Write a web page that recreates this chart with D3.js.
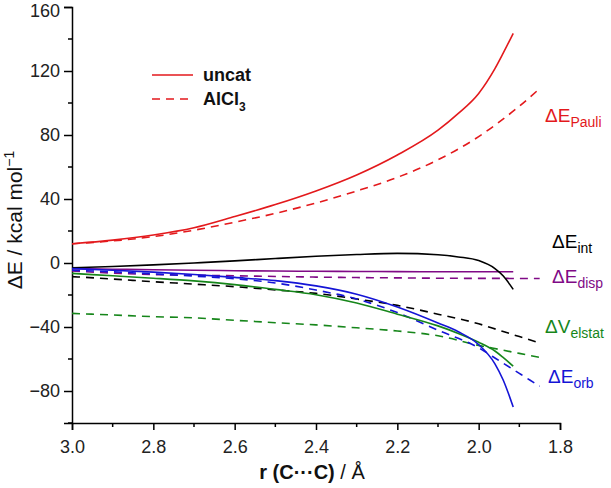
<!DOCTYPE html>
<html><head><meta charset="utf-8">
<script src="https://cdn.jsdelivr.net/npm/d3@7"></script>
<style>html,body{margin:0;padding:0;background:#fff}svg{display:block;font-family:"Liberation Sans",Arial,sans-serif}</style>
</head><body><svg id="c" width="611" height="488"></svg>
<script>
// r (C···C) / Å sampling for uncatalysed (solid) and AlCl3 (dashed) curves
const rUncat = [3.0, 2.9, 2.8, 2.7, 2.6, 2.5, 2.4, 2.3, 2.2, 2.1, 2.05, 2.0, 1.96, 1.94, 1.915];
const rCat   = [3.0, 2.9, 2.8, 2.7, 2.6, 2.5, 2.4, 2.3, 2.2, 2.1, 2.0, 1.95, 1.9, 1.85];

// Uncatalysed (solid)
const pauliUncat  = [12, 14.3, 17.5, 22, 29, 36.5, 45, 55, 67.5, 83, 93.5, 106, 121.5, 131, 143.5];
const intUncat    = [-3, -2.2, -1.2, 0, 1.3, 2.8, 4.2, 5.3, 6, 5.2, 3.8, 1.5, -3.5, -8, -16.5];
const dispUncat   = [-3.5, -3.9, -4.2, -4.5, -4.8, -5.0, -5.2, -5.3, -5.4, -5.5, -5.5, -5.5, -5.5, -5.5, -5.5];
const elstatUncat = [-6.5, -8, -9.5, -11.2, -13.5, -16.5, -19.8, -25, -32, -39.3, -44, -49.5, -55, -59, -64.5];
const orbUncat    = [-3.5, -4.5, -5.7, -7.2, -9, -11, -14.3, -19.5, -27.5, -37.5, -43, -51, -63, -73, -90];

// AlCl3 (dashed)
const pauliCat  = [12, 13.8, 16.5, 20.5, 25.5, 31, 37.5, 45, 53.5, 64.5, 79, 88, 98, 109];
const intCat    = [-8.5, -10, -11.7, -13.2, -14.8, -16.8, -19, -22.5, -26.5, -32, -38, -42, -46, -50];
const dispCat   = [-5, -6.3, -7.2, -7.6, -8, -8.4, -8.8, -9.1, -9.3, -9.5, -9.6, -9.6, -9.7, -9.7];
const elstatCat = [-31.5, -32.5, -33.5, -34.3, -35.8, -37.3, -38.7, -40.5, -42.5, -45.5, -51.5, -54, -56.5, -59];
const orbCat    = [-4.5, -5.5, -6.8, -8.2, -9.8, -12.5, -16.9, -22.5, -31, -42, -53, -61, -69, -77];

const xTicks = [3.0, 2.8, 2.6, 2.4, 2.2, 2.0, 1.8];
const xMinor = [2.9, 2.7, 2.5, 2.3, 2.1, 1.9];
const yTicks = [-80, -40, 0, 40, 80, 120, 160];
const yMinor = [-100, -60, -20, 20, 60, 100, 140];

const colors = {pauli: "#e3191c", int: "#000000", disp: "#800a86", elstat: "#16861a", orb: "#1414d6"};

const svg = d3.select("#c");
const x = d3.scaleLinear().domain([3.0, 1.8]).range([72, 560]);
const y = d3.scaleLinear().domain([-100, 160]).range([423, 7]);

// axes
const xAxis = d3.axisBottom(x).tickValues(xTicks).tickFormat(d3.format(".1f")).tickSize(7).tickPadding(6);
const yAxis = d3.axisLeft(y).tickValues(yTicks).tickFormat(d3.format("d")).tickSize(8).tickPadding(4);

const gx = svg.append("g").attr("transform", "translate(0,423)").call(xAxis);
const gy = svg.append("g").attr("transform", "translate(72,0)").call(yAxis);
gx.selectAll(".minor").data(xMinor).enter().append("line").attr("class", "minor")
  .attr("x1", d => x(d)).attr("x2", d => x(d)).attr("y1", 0).attr("y2", 4).attr("stroke", "#000").attr("stroke-width", 1.5);
gy.selectAll(".minor").data(yMinor).enter().append("line").attr("class", "minor")
  .attr("x1", 0).attr("x2", -4).attr("y1", d => y(d)).attr("y2", d => y(d)).attr("stroke", "#000").attr("stroke-width", 1.5);
[gx, gy].forEach(g => {
  g.select(".domain").attr("stroke-width", 1.5);
  g.selectAll(".tick line").attr("stroke-width", 1.5);
  g.selectAll(".tick text").attr("font-size", 18).attr("fill", "#222").attr("font-family", "Liberation Sans, Arial, sans-serif");
});
gx.selectAll(".tick text").attr("dy", "0.95em");
gy.selectAll(".tick text").filter(d => d === 160).attr("dy", "0.55em");

// curves
const line = d3.line().x(d => x(d[0])).y(d => y(d[1])).curve(d3.curveMonotoneX);
const series = [
  {r: rCat, v: elstatCat, c: colors.elstat, dash: true},
  {r: rCat, v: intCat, c: colors.int, dash: true},
  {r: rCat, v: dispCat, c: colors.disp, dash: true},
  {r: rCat, v: orbCat, c: colors.orb, dash: true},
  {r: rCat, v: pauliCat, c: colors.pauli, dash: true},
  {r: rUncat, v: dispUncat, c: colors.disp, dash: false},
  {r: rUncat, v: intUncat, c: colors.int, dash: false},
  {r: rUncat, v: elstatUncat, c: colors.elstat, dash: false},
  {r: rUncat, v: orbUncat, c: colors.orb, dash: false},
  {r: rUncat, v: pauliUncat, c: colors.pauli, dash: false}
];
series.forEach(s => {
  svg.append("path").datum(s.r.map((r, i) => [r, s.v[i]]))
    .attr("d", line).attr("fill", "none").attr("stroke", s.c).attr("stroke-width", 1.6)
    .attr("stroke-dasharray", s.dash ? "8,6" : null);
});

// legend
svg.append("line").attr("x1", 152).attr("x2", 193).attr("y1", 75).attr("y2", 75).attr("stroke", colors.pauli).attr("stroke-width", 1.6);
svg.append("line").attr("x1", 152).attr("x2", 193).attr("y1", 99).attr("y2", 99).attr("stroke", colors.pauli).attr("stroke-width", 1.6).attr("stroke-dasharray", "8,6");
svg.append("text").attr("x", 203).attr("y", 81).attr("font-size", 18).attr("font-weight", "bold").attr("fill", "#111").text("uncat");
const t2 = svg.append("text").attr("x", 203).attr("y", 105).attr("font-size", 18).attr("font-weight", "bold").attr("fill", "#111");
t2.append("tspan").text("AlCl");
t2.append("tspan").attr("font-size", 12).attr("dy", 6).text("3");

// component labels
const labels = [
  {main: "ΔE", sub: "Pauli", x: 545, y: 122, c: colors.pauli},
  {main: "ΔE", sub: "int", x: 552, y: 248, c: colors.int},
  {main: "ΔE", sub: "disp", x: 552, y: 283, c: colors.disp},
  {main: "ΔV", sub: "elstat", x: 545, y: 333, c: colors.elstat},
  {main: "ΔE", sub: "orb", x: 548, y: 383, c: colors.orb}
];
labels.forEach(l => {
  const t = svg.append("text").attr("x", l.x).attr("y", l.y).attr("font-size", 19).attr("fill", l.c);
  t.append("tspan").text(l.main);
  t.append("tspan").attr("font-size", 14).attr("dy", 5).text(l.sub);
});

// axis titles
const yl = svg.append("text").attr("transform", "translate(22,220) rotate(-90)").attr("text-anchor", "middle")
  .attr("font-size", 21).attr("fill", "#111");
yl.append("tspan").text("ΔE / kcal mol");
yl.append("tspan").attr("font-size", 14).attr("dy", -8).text("−1");

const xl = svg.append("text").attr("x", 312).attr("y", 479).attr("text-anchor", "middle").attr("font-size", 20).attr("fill", "#111");
xl.append("tspan").attr("font-weight", "bold").text("r (C···C)");
xl.append("tspan").text(" / Å");
</script></body></html>
